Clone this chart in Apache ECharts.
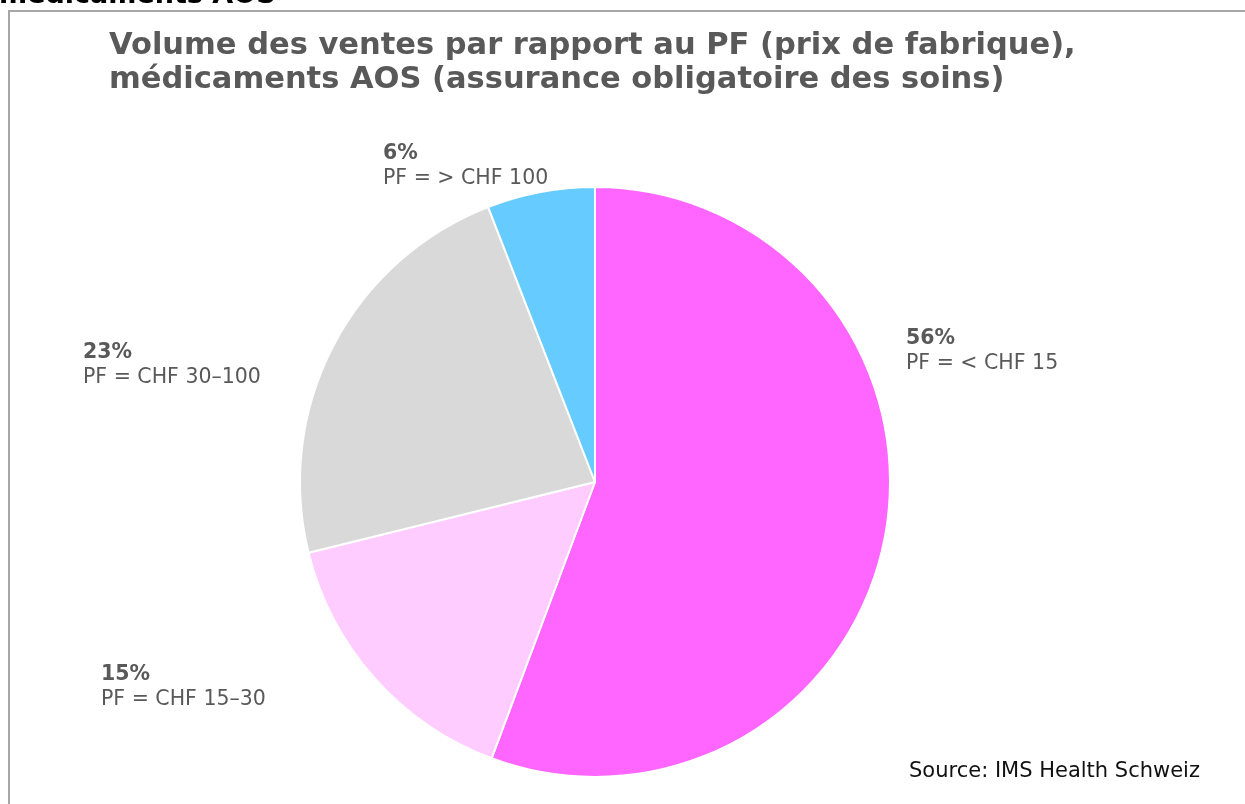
<!DOCTYPE html>
<html>
<head>
<meta charset="utf-8">
<script src="https://cdn.jsdelivr.net/npm/echarts@6/dist/echarts.min.js"></script>
<style>
  html, body { margin: 0; padding: 0; background: #fff; }
  #chart { width: 1245px; height: 804px; }
</style>
</head>
<body>
<div id="chart"></div>
<script>
// données (parts en %)
const categories = ['PF = < CHF 15', 'PF = CHF 15–30', 'PF = CHF 30–100', 'PF = > CHF 100'];
const shares = [55.7, 15.45, 22.95, 5.9];
const colors = ['#FF66FF', '#FFCCFF', '#D9D9D9', '#66CCFF'];

// coin haut-gauche de chaque étiquette
const labelPos = [
  [906, 326],
  [101, 662],
  [83, 340],
  [383, 141]
];

const chart = echarts.init(document.getElementById('chart'));

const option = {
  backgroundColor: '#fff',
  textStyle: { fontFamily: 'DejaVu Sans' },
  animation: false,
  title: [
    {
      text: 'Volume des ventes par rapport au PF (prix de fabrique),\nmédicaments AOS (assurance obligatoire des soins)',
      left: 104,
      top: 24,
      textStyle: {
        fontFamily: 'DejaVu Sans',
        fontWeight: 'bold',
        fontSize: 30.5,
        lineHeight: 34,
        color: '#595959'
      }
    },
    {
      text: 'Source: IMS Health Schweiz',
      left: 904,
      top: 756,
      textStyle: {
        fontFamily: 'DejaVu Sans',
        fontWeight: 'normal',
        fontSize: 21,
        color: '#111'
      }
    }
  ],
  graphic: [
    {
      // titre de la page au-dessus, coupé par le bord
      type: 'text',
      x: -1,
      y: 9,
      style: {
        text: 'médicaments AOS',
        font: 'bold 27px "DejaVu Sans"',
        fill: '#000',
        verticalAlign: 'bottom'
      },
      silent: true
    },
    {
      type: 'polyline',
      shape: { points: [[9, 810], [9, 11], [1250, 11]] },
      style: { stroke: '#a6a6a6', lineWidth: 2, fill: null },
      silent: true
    }
  ],
  series: [
    {
      type: 'pie',
      center: [595, 482],
      radius: 295,
      startAngle: 90,
      clockwise: true,
      data: categories.map((name, i) => ({
        name: name,
        value: shares[i],
        itemStyle: { color: colors[i] }
      })),
      itemStyle: { borderColor: '#fff', borderWidth: 2 },
      label: {
        show: true,
        position: 'outside',
        formatter: p => '{v|' + Math.round(p.value) + '%}\n{n|' + p.name + '}',
        rich: {
          v: { fontFamily: 'DejaVu Sans', fontWeight: 'bold', fontSize: 20.5, color: '#595959', lineHeight: 25 },
          n: { fontFamily: 'DejaVu Sans', fontSize: 20.5, color: '#595959', lineHeight: 25 }
        }
      },
      labelLine: { show: false },
      labelLayout: p => ({
        x: labelPos[p.dataIndex][0],
        y: labelPos[p.dataIndex][1],
        align: 'left',
        verticalAlign: 'top'
      })
    }
  ]
};

chart.setOption(option);
</script>
</body>
</html>
